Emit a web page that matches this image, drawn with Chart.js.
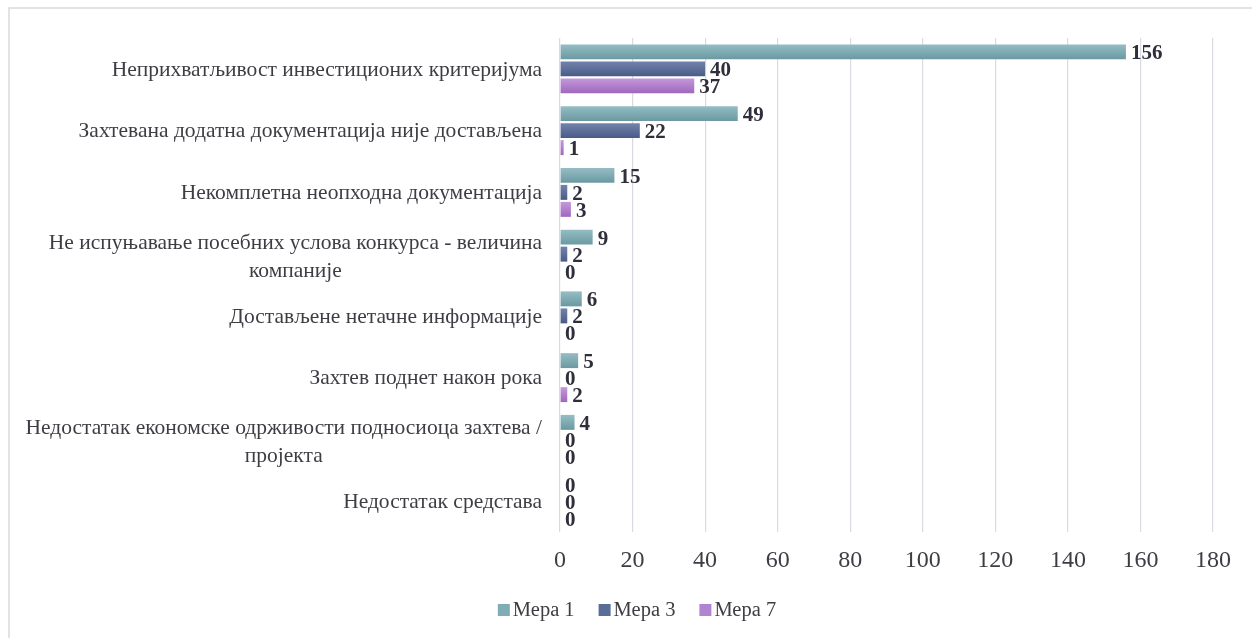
<!DOCTYPE html>
<html>
<head>
<meta charset="utf-8">
<script src="https://cdn.jsdelivr.net/npm/chart.js@4.4.1/dist/chart.umd.min.js"></script>
<style>
  html, body { margin: 0; padding: 0; background: #ffffff; }
  #wrap { width: 1252px; height: 638px; position: relative; }
</style>
</head>
<body>
<div id="wrap"><canvas id="chart" width="1252" height="638"></canvas></div>
<script>
// Reasons for rejected applications, by measure
const categories = [
  ['Неприхватљивост инвестиционих критеријума'],
  ['Захтевана додатна документација није достављена'],
  ['Некомплетна неопходна документација'],
  ['Не испуњавање посебних услова конкурса - величина', 'компаније'],
  ['Достављене нетачне информације'],
  ['Захтев поднет након рока'],
  ['Недостатак економске одрживости подносиоца захтева /', 'пројекта'],
  ['Недостатак средстава']
];
const seriesNames = ['Мера 1', 'Мера 3', 'Мера 7'];
const mera1 = [156, 49, 15, 9, 6, 5, 4, 0];
const mera3 = [40, 22, 2, 2, 2, 0, 0, 0];
const mera7 = [37, 1, 3, 0, 0, 2, 0, 0];
const xTicks = [0, 20, 40, 60, 80, 100, 120, 140, 160, 180];

// colours: flat (legend) and top/bottom gradient stops (bars)
const flatColors = ['#80adb5', '#5a6d97', '#b283cf'];
const gradStops = [
  ['#95bdc4', '#6a99a2'],
  ['#7383ab', '#485b87'],
  ['#c598da', '#9f67bd']
];

const SERIF = '"Liberation Serif", "Times New Roman", serif';
const FRAME_LEFT = 9, FRAME_TOP = 8, FRAME_RIGHT = 1265;

// each bar gets its own vertical gradient, light at the top, darker below
const barGradient = {
  id: 'barGradient',
  beforeDatasetsDraw(chart) {
    const ctx = chart.ctx;
    chart.data.datasets.forEach((ds, di) => {
      const meta = chart.getDatasetMeta(di);
      meta.data.forEach(el => {
        const top = el.y - el.height / 2;
        const g = ctx.createLinearGradient(0, top, 0, top + el.height);
        g.addColorStop(0, gradStops[di][0]);
        g.addColorStop(1, gradStops[di][1]);
        el.options = Object.assign({}, el.options, { backgroundColor: g });
      });
    });
  }
};

const frameAndText = {
  id: 'frameAndText',
  beforeDraw(chart) {
    const ctx = chart.ctx;
    ctx.save();
    ctx.strokeStyle = '#dcdce2';
    ctx.lineWidth = 1.6;
    ctx.strokeRect(FRAME_LEFT, FRAME_TOP, FRAME_RIGHT - FRAME_LEFT, 700);
    ctx.restore();
  },
  afterDatasetsDraw(chart) {
    const ctx = chart.ctx;
    const yScale = chart.scales.y;
    const area = chart.chartArea;
    ctx.save();

    // category labels: widest line right-aligned, extra lines centred under it
    ctx.font = '21.5px ' + SERIF;
    ctx.fillStyle = '#3d3d44';
    ctx.textBaseline = 'middle';
    ctx.textAlign = 'center';
    const lineH = 28;
    categories.forEach((lines, i) => {
      const cy = yScale.getPixelForValue(i) + 1;
      const widest = Math.max(...lines.map(l => ctx.measureText(l).width));
      const cx = area.left - 18 - widest / 2;
      const y0 = cy - (lines.length - 1) * lineH / 2 + (lines.length - 1) * 2;
      lines.forEach((l, k) => ctx.fillText(l, cx, y0 + k * lineH));
    });

    // value labels at the bar ends
    ctx.font = 'bold 21px ' + SERIF;
    ctx.fillStyle = '#2f2f3b';
    ctx.textAlign = 'left';
    chart.data.datasets.forEach((ds, di) => {
      const meta = chart.getDatasetMeta(di);
      meta.data.forEach((el, i) => {
        ctx.fillText(String(ds.data[i]), el.x + 5, el.y + 2);
      });
    });

    // legend
    ctx.font = '20.5px ' + SERIF;
    const box = 12, gapBox = 3, gapItem = 24;
    const widths = seriesNames.map(n => box + gapBox + ctx.measureText(n).width);
    const total = widths.reduce((a, b) => a + b, 0) + gapItem * (widths.length - 1);
    let x = (FRAME_LEFT + FRAME_RIGHT) / 2 - total / 2;
    const ly = 610;
    seriesNames.forEach((n, i) => {
      ctx.fillStyle = flatColors[i];
      ctx.fillRect(x, ly - box / 2, box, box);
      ctx.fillStyle = '#3d3d44';
      ctx.fillText(n, x + box + gapBox, ly + 1);
      x += widths[i] + gapItem;
    });
    ctx.restore();
  }
};

new Chart(document.getElementById('chart'), {
  type: 'bar',
  data: {
    labels: categories,
    datasets: [
      { label: seriesNames[0], data: mera1, backgroundColor: flatColors[0] },
      { label: seriesNames[1], data: mera3, backgroundColor: flatColors[1] },
      { label: seriesNames[2], data: mera7, backgroundColor: flatColors[2] }
    ]
  },
  options: {
    indexAxis: 'y',
    responsive: false,
    animation: false,
    categoryPercentage: 0.826,
    barPercentage: 0.88,
    layout: { padding: { left: 0, top: 38, right: 39, bottom: 46 } },
    plugins: {
      legend: { display: false },
      tooltip: { enabled: false }
    },
    scales: {
      x: {
        min: 0,
        max: 180,
        afterBuildTicks(scale) { scale.ticks = xTicks.map(v => ({ value: v })); },
        afterFit(scale) { scale.height = 60; },
        grid: { color: '#dadae2', lineWidth: 1.2, drawTicks: false },
        border: { display: false },
        ticks: {
          font: { family: SERIF, size: 24 },
          color: '#3d3d44',
          padding: 14
        }
      },
      y: {
        afterFit(scale) { scale.width = 560; },
        grid: { display: false },
        border: { display: false },
        ticks: { display: false }
      }
    }
  },
  plugins: [barGradient, frameAndText]
});
</script>
</body>
</html>
